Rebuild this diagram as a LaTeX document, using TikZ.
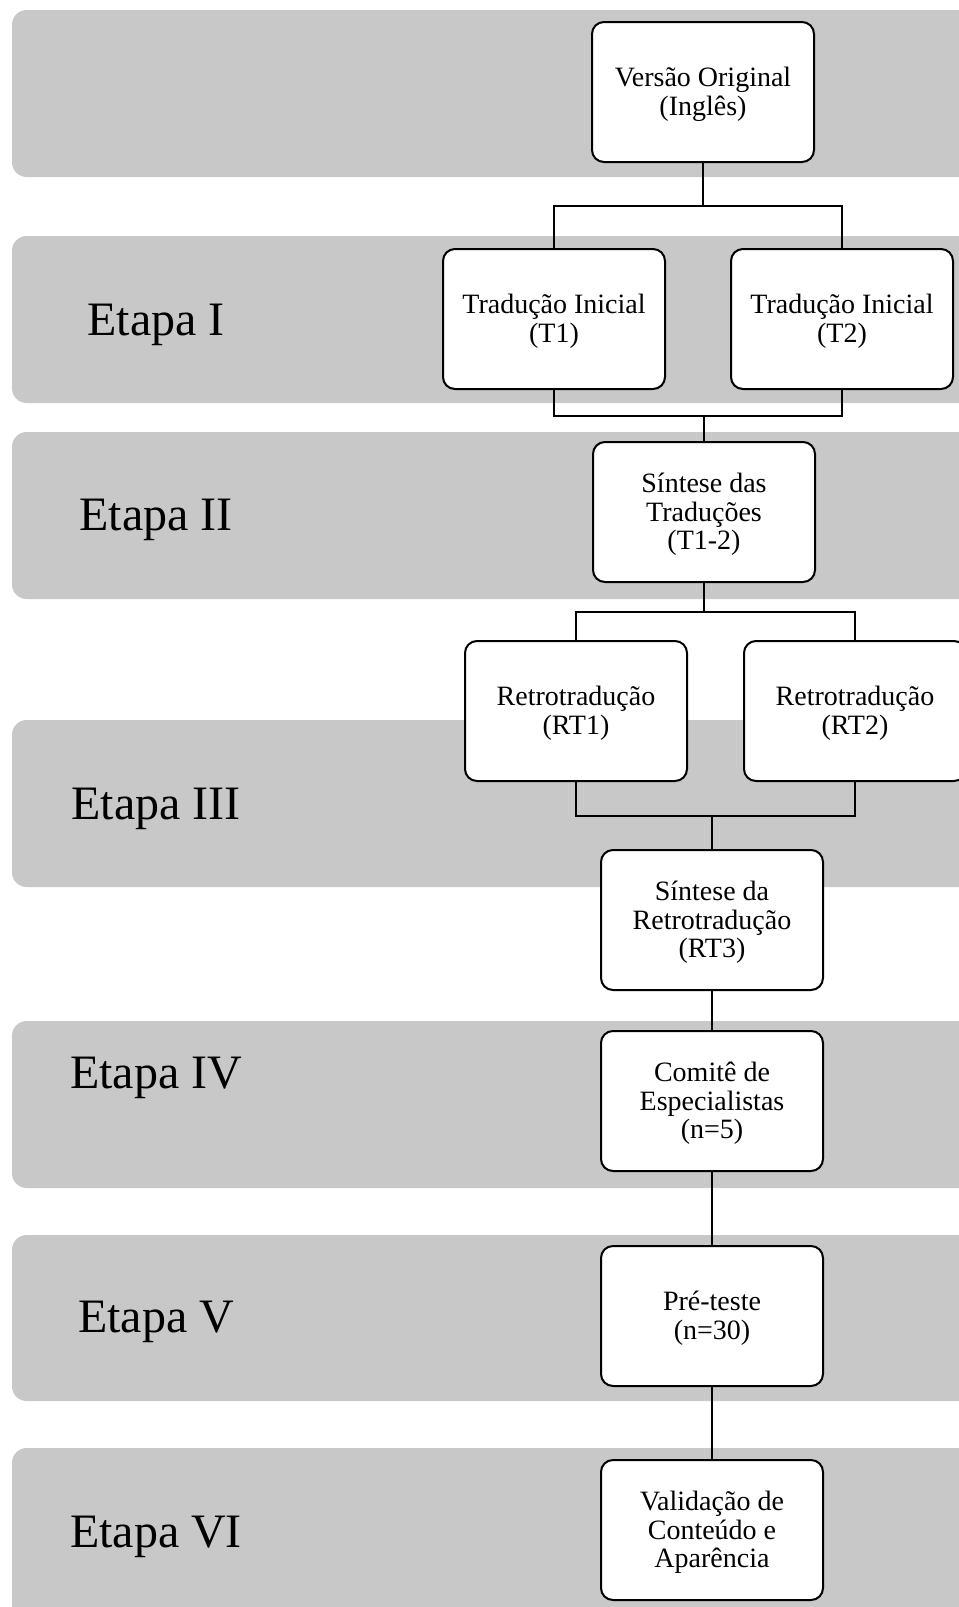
\documentclass[tikz,border=0pt]{standalone}
\usepackage{fontspec}
\setmainfont{Liberation Serif}
\definecolor{bandgray}{RGB}{200,200,200}
\tikzset{
  stage/.style={fill=bandgray, draw=none, rounded corners=11pt},
  stepbox/.style={draw, fill=white, line width=1.5pt, rounded corners=9pt, minimum width=166.5pt, minimum height=105pt, align=center, inner sep=2pt, font=\fontsize{21}{21.4}\selectfont, text depth=0.8pt},
  etapa/.style={font=\fontsize{36}{40}\selectfont, inner sep=0pt, yshift=-3.8pt},
  link/.style={line width=1.4pt}
}

\begin{document}
\begin{tikzpicture}[x=0.75pt,y=0.75pt,yscale=-1,xscale=1]
\clip (0,0) rectangle (959,1607);

%Shape: Bands
\fill [stage] (12,10) rectangle (1000,177) ;
\fill [stage] (12,236) rectangle (1000,403) ;
\fill [stage] (12,432) rectangle (1000,599) ;
\fill [stage] (12,720) rectangle (1000,887) ;
\fill [stage] (12,1021) rectangle (1000,1188) ;
\fill [stage] (12,1235) rectangle (1000,1401) ;
\fill [stage] (12,1448) rectangle (1000,1660) ;

% Text Node
\node [etapa] (e1) at (156,320) {Etapa I};
% Text Node
\node [etapa] (e2) at (156,515) {Etapa II};
% Text Node
\node [etapa] (e3) at (156,804) {Etapa III};
% Text Node
\node [etapa] (e4) at (156,1073) {Etapa IV};
% Text Node
\node [etapa] (e5) at (156,1317) {Etapa V};
% Text Node
\node [etapa] (e6) at (156,1532) {Etapa VI};

%Shape: Boxes
\node [stepbox] (vo) at (703,92) {Versão Original\\(Inglês)};
\node [stepbox] (t1) at (554,319) {Tradução Inicial\\(T1)};
\node [stepbox] (t2) at (842,319) {Tradução Inicial\\(T2)};
\node [stepbox] (st) at (704,512) {Síntese das\\Traduções\\(T1-2)};
\node [stepbox] (rt1) at (576,711) {Retrotradução\\(RT1)};
\node [stepbox] (rt2) at (855,711) {Retrotradução\\(RT2)};
\node [stepbox] (sr) at (712,920) {Síntese da\\Retrotradução\\(RT3)};
\node [stepbox] (cm) at (712,1101) {Comitê de\\Especialistas\\(n=5)};
\node [stepbox] (pt) at (712,1316) {Pré-teste\\(n=30)};
\node [stepbox] (vc) at (712,1530) {Validação de\\Conteúdo e\\Aparência};

%Straight Lines: junctions
\coordinate (j1) at (703,206);
\coordinate (j2) at (704,416);
\coordinate (j3) at (704,612);
\coordinate (j4) at (712,816);

\draw [link] (vo) -- (j1) ;
\draw [link] (t1.north) |- (j1) -| (t2.north) ;
\draw [link] (t1.south) |- (j2) -| (t2.south) ;
\draw [link] (j2) -- (st) ;
\draw [link] (st) -- (j3) ;
\draw [link] (rt1.north) |- (j3) -| (rt2.north) ;
\draw [link] (rt1.south) |- (j4) -| (rt2.south) ;
\draw [link] (j4) -- (sr) ;
\draw [link] (sr) -- (cm) ;
\draw [link] (cm) -- (pt) ;
\draw [link] (pt) -- (vc) ;

\end{tikzpicture}
\end{document}
